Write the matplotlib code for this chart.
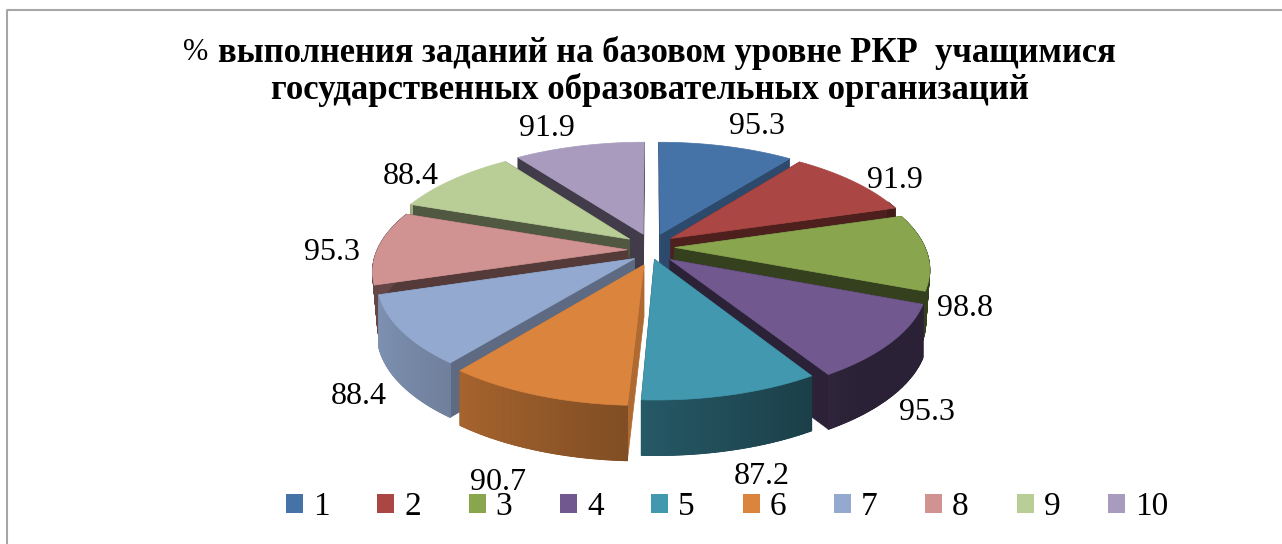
import numpy as np
import matplotlib
matplotlib.use("Agg")
import matplotlib.pyplot as plt
from matplotlib.patches import Patch
from matplotlib.collections import PolyCollection

categories = ["1", "2", "3", "4", "5", "6", "7", "8", "9", "10"]
values = [95.3, 91.9, 98.8, 95.3, 87.2, 90.7, 88.4, 95.3, 88.4, 91.9]
colors = ["#4572A7", "#AA4643", "#89A54E", "#71588F", "#4198AF",
          "#DB843D", "#93A9CF", "#D19392", "#B9CD96", "#A99BBD"]
wall_shade = [0.65, 0.45, 0.39, 0.39, 0.45, 0.80, 0.63, 0.40, 0.43, 0.39]
outer_scale = [1, 1, 1, 1, 1, 1, 1, 0.55, 1, 1]
nudge_x = [0, -2, -3, -2, -4, 1, 4, 1, -2, -1]
nudge_y = [0, 0, 2, 7, 3, 9, 7, 5, 1, 0]
low_dx = [0, 0, -4, 0, 0, 0, 0, 5, 0, 0]
title_line1 = "выполнения заданий на базовом уровне РКР  учащимися"
title_line2 = "государственных образовательных организаций"
label_xy = [(757, 127), (895, 180), (965, 308), (927, 412), (762, 477),
            (498, 483), (359, 396), (332, 253), (411, 176), (547, 129)]

# projection parameters, in output pixels
CX, CY = 652, 245
RX, AY, K = 250, 111.6, 0.175
EXPLODE = 0.103
H = 52

fig = plt.figure(figsize=(12.82, 5.44), dpi=100)
ax = fig.add_axes([0, 0, 1, 1])
ax.set_xlim(0, 1282)
ax.set_ylim(544, 0)
ax.axis("off")
SERIF = "Liberation Serif"


def project(X, Y, low=False, dx=0, dy=0, ldx=0):
    X, Y = np.asarray(X, float), np.asarray(Y, float)
    s = 1 / (1 + K * Y)
    sx = CX + RX * X * s + dx
    sy = CY - AY * Y * s + dy
    if low:
        sy = sy + H * s ** 0.3
        sx = sx + ldx
    return sx, sy


def shade(color, f):
    return tuple(c * f for c in matplotlib.colors.to_rgb(color))


ax.plot([7, 7, 1282], [544, 10, 10], color="#A6A6A6", lw=1.5, zorder=1)

edges = np.concatenate([[0], np.cumsum(values)]) / np.sum(values) * 2 * np.pi
mids = (edges[:-1] + edges[1:]) / 2
order = np.argsort(-np.cos(mids))  # back to front

z = 2
for i in order:
    a0, a1, am = edges[i], edges[i + 1], mids[i]
    ox, oy = EXPLODE * np.sin(am), EXPLODE * np.cos(am)
    th = np.linspace(a0, a1, 60)
    X, Y = ox + np.sin(th), oy + np.cos(th)
    c = colors[i]
    d = {"dx": nudge_x[i], "dy": nudge_y[i], "ldx": low_dx[i]}

    # radial walls
    for a in (a0, a1):
        ex, ey = ox + np.sin(a), oy + np.cos(a)
        tx, ty = project([ox, ex], [oy, ey], **d)
        bx, by = project([ox, ex], [oy, ey], low=True, **d)
        ax.fill([tx[0], tx[1], bx[1], bx[0]], [ty[0], ty[1], by[1], by[0]],
                color=shade(c, wall_shade[i]), lw=0.5, zorder=z)
    z += 1

    # outer wall with left to right gradient
    tx, ty = project(X, Y, **d)
    bx, by = project(X, Y, low=True, **d)
    quads, cols = [], []
    for j in range(len(th) - 1):
        nx = np.sin((th[j] + th[j + 1]) / 2)
        if np.cos((th[j] + th[j + 1]) / 2) > 0.35:
            continue
        f = max(0.38, 0.57 - 0.30 * nx) * outer_scale[i]
        quads.append([(tx[j], ty[j]), (tx[j + 1], ty[j + 1]),
                      (bx[j + 1], by[j + 1]), (bx[j], by[j])])
        cols.append(shade(c, f))
    if quads:
        # solid underlay hides the anti-aliasing seams between the quads
        q = np.array(quads)
        outline = np.r_[q[:, 0], q[-1:, 1], q[-1:, 2], q[::-1, 3]]
        ax.fill(outline[:, 0], outline[:, 1], color=cols[len(cols) // 2],
                lw=0.5, zorder=z)
        ax.add_collection(PolyCollection(quads, facecolors=cols, edgecolors=cols,
                                         linewidths=0.8, zorder=z))
    z += 1

    # top face
    px, py = project(ox, oy, **d)
    ax.fill(np.r_[px, tx], np.r_[py, ty], color=c, lw=0.5, zorder=z)
    z += 1

for (x, y), v in zip(label_xy, values):
    ax.text(x, y, f"{v:.1f}", family=SERIF, fontsize=23, ha="center", va="center",
            color="black", zorder=100)

ax.text(208, 53, "%", family=SERIF, fontsize=22, ha="right", va="center", zorder=100)
ax.text(218, 53, title_line1, family=SERIF, fontsize=24.9, fontweight="bold",
        ha="left", va="center", zorder=100)
ax.text(650, 90, title_line2, family=SERIF, fontsize=25, fontweight="bold",
        ha="center", va="center", zorder=100)

handles = [Patch(facecolor=c, edgecolor="none", label=n)
           for c, n in zip(colors, categories)]
leg = ax.legend(handles=handles, ncols=10, frameon=False,
                prop={"family": SERIF, "size": 24},
                loc="center", bbox_to_anchor=(727 / 1282, 1 - 507 / 544),
                bbox_transform=ax.transAxes,
                handlelength=0.51, handleheight=0.51, handletextpad=0.3,
                columnspacing=1.43, borderpad=0, borderaxespad=0)
leg.set_zorder(100)

fig.savefig("out.png", dpi=100, facecolor="white")
